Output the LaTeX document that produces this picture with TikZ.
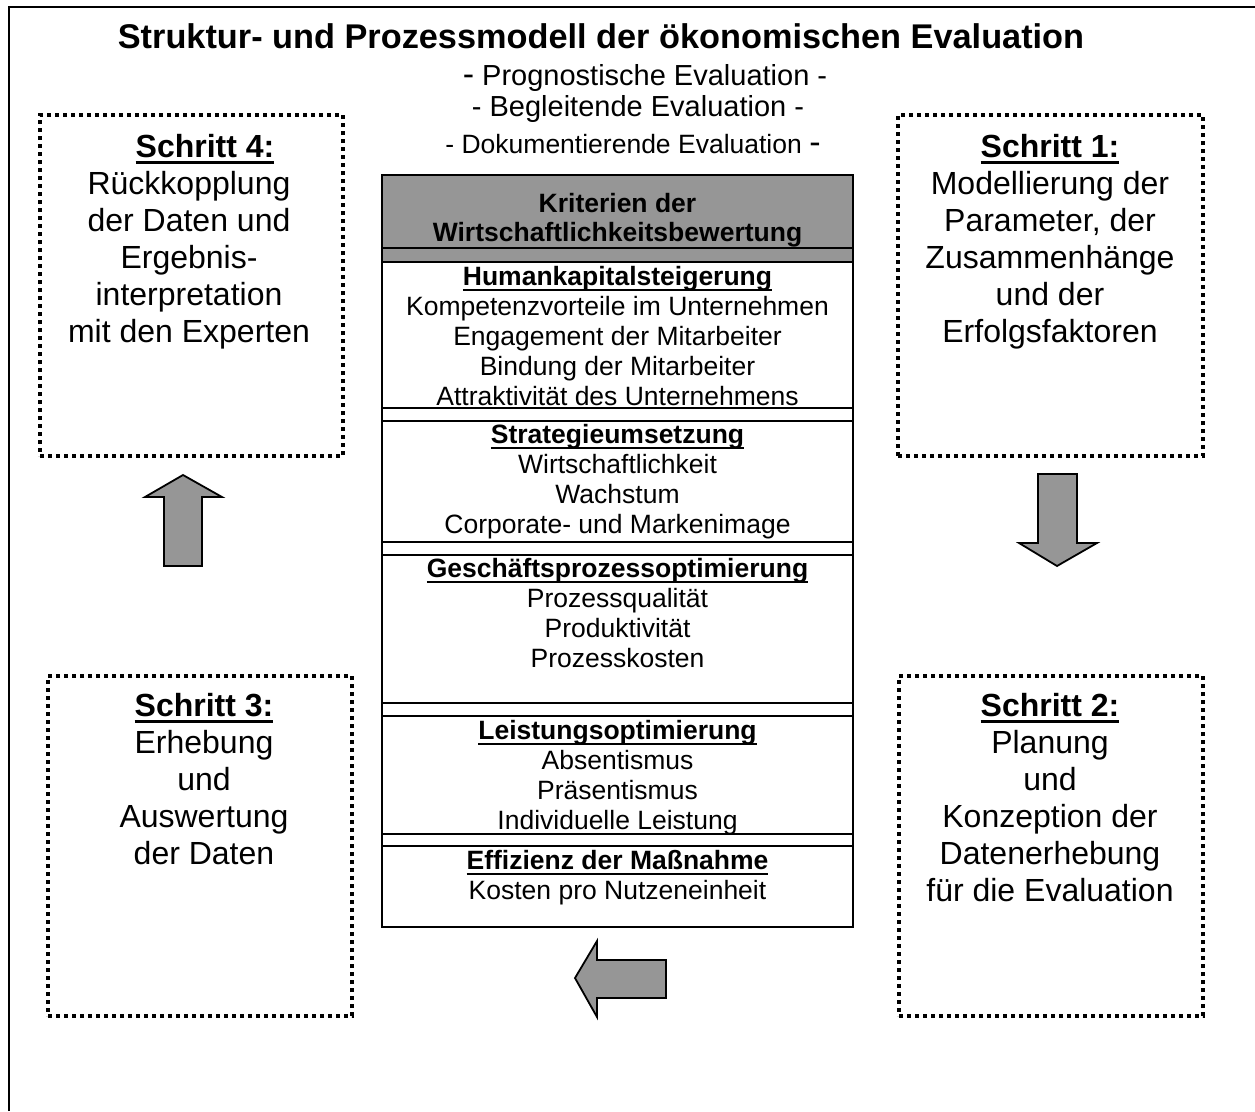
\documentclass[tikz,border=0pt]{standalone}
\usepackage{fontspec}
\setmainfont{Liberation Sans}
% underlined headings with a heavier rule
\newcommand{\ulhd}[1]{\setbox0\hbox{#1}\rlap{\rule[-5.5pt]{\wd0}{2pt}}\box0}
\newcommand{\ulbig}[1]{\setbox0\hbox{#1}\rlap{\rule[-6.5pt]{\wd0}{2.5pt}}\box0}
\newcommand{\bigdash}{{\fontsize{34}{34}\selectfont -}}
\definecolor{fillgray}{HTML}{969696}
\begin{document}
\begin{tikzpicture}[x=1pt,y=-1pt,
  every node/.style={inner sep=0pt,outer sep=0pt},
  frameline/.style={line width=2.2pt},
  rowline/.style={line width=1.8pt},
  dotbox/.style={draw,line width=3.6pt,dash pattern=on 3.6pt off 4.4pt,rectangle},
  subline/.style={anchor=base,font=\fontsize{29}{30}\selectfont},
  colsec/.style={anchor=north,align=center,font=\fontsize{26.5}{30}\selectfont},
  stepbox/.style={anchor=north,align=center,font=\fontsize{32}{37}\selectfont},
  blockarrow/.style={draw,fill=fillgray,line width=1.8pt,line join=miter}]
\useasboundingbox (0,0) rectangle (1255,1111);

% outer frame (only top and left edges lie inside the page)
\draw[frameline] (9,1111) -- (9,7) -- (1256,7);

% title and evaluation types
\node[anchor=base,font=\fontsize{34.3}{36}\selectfont\bfseries] (title) at (601,48)
  {Struktur- und Prozessmodell der ökonomischen Evaluation};
\node[subline] (sub1) at (645,85)
  {\bigdash{} Prognostische Evaluation -};
\node[subline] (sub2) at (638,116)
  {- Begleitende Evaluation -};
\node[subline,font=\fontsize{26.5}{30}\selectfont] (sub3) at (633,153)
  {- Dokumentierende Evaluation \bigdash};

% criteria column
\fill[fillgray] (382,175) rectangle (853,262);
\draw[rowline] (382,175) rectangle (853,927);
\foreach \yy in {248,262,408,421,542,555,703,716,834,846}
  \draw[rowline] (382,\yy) -- (853,\yy);

\node[colsec,font=\fontsize{26.5}{29}\selectfont\bfseries] (head) at (617.5,188)
  {\rule{0pt}{24pt}Kriterien der\\Wirtschaftlichkeitsbewertung};
\node[colsec] (hk) at (617.5,261)
  {\rule{0pt}{24pt}\textbf{\ulhd{Humankapitalsteigerung}}\\
   Kompetenzvorteile im Unternehmen\\
   Engagement der Mitarbeiter\\
   Bindung der Mitarbeiter\\
   Attraktivität des Unternehmens};
\node[colsec] (st) at (617.5,419)
  {\rule{0pt}{24pt}\textbf{\ulhd{Strategieumsetzung}}\\
   Wirtschaftlichkeit\\
   Wachstum\\
   Corporate- und Markenimage};
\node[colsec] (gp) at (617.5,553)
  {\rule{0pt}{24pt}\textbf{\ulhd{Geschäftsprozessoptimierung}}\\
   Prozessqualität\\
   Produktivität\\
   Prozesskosten};
\node[colsec] (lo) at (617.5,715)
  {\rule{0pt}{24pt}\textbf{\ulhd{Leistungsoptimierung}}\\
   Absentismus\\
   Präsentismus\\
   Individuelle Leistung};
\node[colsec] (ef) at (617.5,845)
  {\rule{0pt}{24pt}\textbf{\ulhd{Effizienz der Maßnahme}}\\
   Kosten pro Nutzeneinheit};

% process steps
\node[dotbox,minimum width=303pt,minimum height=341pt] (s4box) at (191.5,285.5) {};
\node[dotbox,minimum width=305pt,minimum height=341pt] (s1box) at (1050.5,285.5) {};
\node[dotbox,minimum width=304pt,minimum height=340pt] (s3box) at (200,846) {};
\node[dotbox,minimum width=304pt,minimum height=340pt] (s2box) at (1051,846) {};

\node[stepbox] (s4) at (189,129)
  {\rule{0pt}{28pt}\hspace*{32pt}\textbf{\ulbig{Schritt 4:}}\\
   Rückkopplung\\der Daten und\\Ergebnis-\\interpretation\\mit den Experten};
\node[stepbox] (s1) at (1050,129)
  {\rule{0pt}{28pt}\textbf{\ulbig{Schritt 1:}}\\
   Modellierung der\\Parameter, der\\Zusammenhänge\\und der\\Erfolgsfaktoren};
\node[stepbox] (s3) at (204,688)
  {\rule{0pt}{28pt}\textbf{\ulbig{Schritt 3:}}\\
   Erhebung\\und\\Auswertung\\der Daten};
\node[stepbox] (s2) at (1050,688)
  {\rule{0pt}{28pt}\textbf{\ulbig{Schritt 2:}}\\
   Planung\\und\\Konzeption der\\Datenerhebung\\für die Evaluation};

% block arrows of the cycle
\draw[blockarrow] (1038,474) -- (1077,474) -- (1077,543) -- (1097,543) -- (1057,566)
  -- (1019,543) -- (1038,543) -- cycle;
\draw[blockarrow] (575,978) -- (597,941) -- (597,960) -- (666,960) -- (666,998)
  -- (597,998) -- (597,1017) -- cycle;
\draw[blockarrow] (183,475) -- (222,497) -- (202,497) -- (202,566) -- (164,566)
  -- (164,497) -- (145,497) -- cycle;
\end{tikzpicture}
\end{document}
